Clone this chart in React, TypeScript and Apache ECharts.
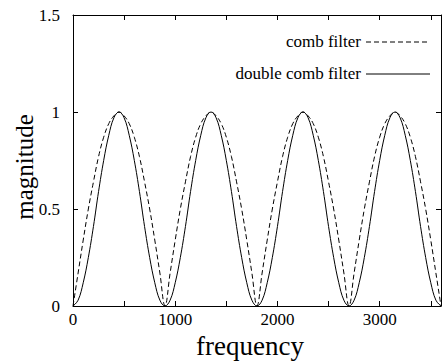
import React, { useEffect, useRef } from "react";
import * as echarts from "echarts";

const frequency = [
  0, 50, 100, 150, 200, 250, 300, 350, 400, 450, 500, 550, 600, 650, 700, 750, 800, 850,
  900, 950, 1000, 1050, 1100, 1150, 1200, 1250, 1300, 1350, 1400, 1450, 1500, 1550, 1600, 1650, 1700, 1750,
  1800, 1850, 1900, 1950, 2000, 2050, 2100, 2150, 2200, 2250, 2300, 2350, 2400, 2450, 2500, 2550, 2600, 2650,
  2700, 2750, 2800, 2850, 2900, 2950, 3000, 3050, 3100, 3150, 3200, 3250, 3300, 3350, 3400, 3450, 3500, 3550,
  3600,
];

const combFilter = [
  0, 0.17, 0.34, 0.5, 0.64, 0.77, 0.87, 0.94, 0.98, 1, 0.98, 0.94, 0.87, 0.77, 0.64, 0.5, 0.34, 0.17,
  0, 0.17, 0.34, 0.5, 0.64, 0.77, 0.87, 0.94, 0.98, 1, 0.98, 0.94, 0.87, 0.77, 0.64, 0.5, 0.34, 0.17,
  0, 0.17, 0.34, 0.5, 0.64, 0.77, 0.87, 0.94, 0.98, 1, 0.98, 0.94, 0.87, 0.77, 0.64, 0.5, 0.34, 0.17,
  0, 0.17, 0.34, 0.5, 0.64, 0.77, 0.87, 0.94, 0.98, 1, 0.98, 0.94, 0.87, 0.77, 0.64, 0.5, 0.34, 0.17,
  0,
];

const doubleCombFilter = [
  0, 0.03, 0.12, 0.25, 0.41, 0.59, 0.75, 0.88, 0.97, 1, 0.97, 0.88, 0.75, 0.59, 0.41, 0.25, 0.12, 0.03,
  0, 0.03, 0.12, 0.25, 0.41, 0.59, 0.75, 0.88, 0.97, 1, 0.97, 0.88, 0.75, 0.59, 0.41, 0.25, 0.12, 0.03,
  0, 0.03, 0.12, 0.25, 0.41, 0.59, 0.75, 0.88, 0.97, 1, 0.97, 0.88, 0.75, 0.59, 0.41, 0.25, 0.12, 0.03,
  0, 0.03, 0.12, 0.25, 0.41, 0.59, 0.75, 0.88, 0.97, 1, 0.97, 0.88, 0.75, 0.59, 0.41, 0.25, 0.12, 0.03,
  0,
];

const seriesNames = ["comb filter", "double comb filter"];
const xLabelValues = [0, 1000, 2000, 3000];
const yTickLabels: Record<string, string> = { "0": "0", "0.5": "0.5", "1": "1", "1.5": "1.5" };
const xTitle = "frequency";
const yTitle = "magnitude";

const FONT = "Liberation Serif";

export default function App() {
  const ref = useRef<HTMLDivElement>(null);
  useEffect(() => {
    if (!ref.current) return;
    const chart = echarts.init(ref.current, undefined, { renderer: "svg" });
    const axisLine = { show: true, onZero: false, lineStyle: { color: "#000", width: 1 } };
    const tick = { show: true, inside: true, length: 5, lineStyle: { color: "#000", width: 1 } };
    const legendText = (text: string, y: number) => ({
      type: "text",
      x: 361,
      y,
      style: {
        text,
        fontFamily: FONT,
        fontSize: 17,
        fill: "#000",
        align: "right",
        verticalAlign: "middle",
      },
    });
    chart.setOption({
      animation: false,
      backgroundColor: "#fff",
      textStyle: { fontFamily: FONT },
      grid: { left: 73, right: 3, top: 15, bottom: 57, containLabel: false, outerBoundsMode: "none" },
      xAxis: [
        {
          type: "value",
          min: 0,
          max: 3600,
          interval: 500,
          axisLine,
          axisTick: tick,
          splitLine: { show: false },
          axisLabel: {
            fontFamily: FONT,
            fontSize: 17,
            color: "#000",
            margin: 5,
            formatter: (v: number) => (xLabelValues.includes(v) ? String(v) : ""),
            showMaxLabel: false,
          },
        },
        {
          type: "value",
          position: "top",
          min: 0,
          max: 3600,
          interval: 500,
          axisLine,
          axisTick: tick,
          axisLabel: { show: false },
          splitLine: { show: false },
        },
      ],
      yAxis: [
        {
          type: "value",
          min: 0,
          max: 1.5,
          interval: 0.5,
          axisLine,
          axisTick: tick,
          splitLine: { show: false },
          axisLabel: {
            fontFamily: FONT,
            fontSize: 17,
            color: "#000",
            margin: 13,
            formatter: (v: number) => yTickLabels[String(v)] ?? "",
          },
        },
        {
          type: "value",
          position: "right",
          min: 0,
          max: 1.5,
          interval: 0.5,
          axisLine,
          axisTick: tick,
          axisLabel: { show: false },
          splitLine: { show: false },
        },
      ],
      series: [
        {
          name: seriesNames[0],
          type: "line",
          data: frequency.map((f, i) => [f, combFilter[i]]),
          showSymbol: false,
          symbol: "none",
          smooth: 0.4,
          lineStyle: { color: "#000", width: 1, type: [5, 3] },
          itemStyle: { color: "#000" },
        },
        {
          name: seriesNames[1],
          type: "line",
          data: frequency.map((f, i) => [f, doubleCombFilter[i]]),
          showSymbol: false,
          symbol: "none",
          smooth: 0.4,
          lineStyle: { color: "#000", width: 1 },
          itemStyle: { color: "#000" },
        },
      ],
      graphic: [
        {
          type: "text",
          x: 250,
          y: 346,
          style: {
            text: xTitle,
            fontFamily: FONT,
            fontSize: 27,
            fill: "#000",
            align: "center",
            verticalAlign: "middle",
          },
        },
        {
          type: "text",
          x: 24,
          y: 167,
          rotation: Math.PI / 2,
          style: {
            text: yTitle,
            fontFamily: FONT,
            fontSize: 25,
            fill: "#000",
            align: "center",
            verticalAlign: "middle",
          },
        },
        legendText(seriesNames[0], 41),
        legendText(seriesNames[1], 73),
        {
          type: "line",
          shape: { x1: 366, y1: 42, x2: 430, y2: 42 },
          style: { stroke: "#000", lineWidth: 1, lineDash: [5, 3] },
        },
        {
          type: "line",
          shape: { x1: 366, y1: 74, x2: 430, y2: 74 },
          style: { stroke: "#000", lineWidth: 1 },
        },
      ],
    });
    return () => chart.dispose();
  }, []);
  return <div ref={ref} style={{ width: 444, height: 363, position: "absolute", left: 0, top: 0 }} />;
}
